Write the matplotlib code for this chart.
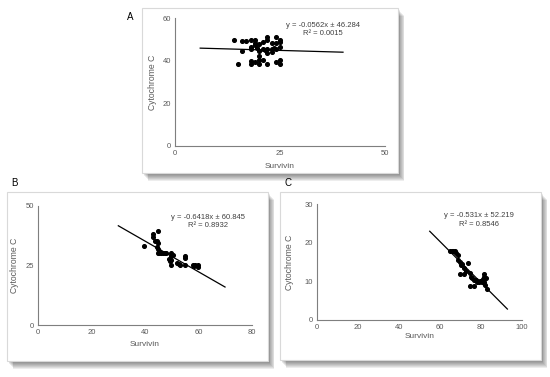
import matplotlib
matplotlib.use("Agg")
import matplotlib.pyplot as plt
from matplotlib.patches import Rectangle

plt.rcParams['font.family'] = ['Liberation Sans', 'DejaVu Sans']

# Panel A data
a_x = [14, 15, 16, 16, 17, 18, 18, 18, 18, 18, 19, 19, 19, 19.5, 20, 20, 20, 20, 20,
       21, 21, 21, 22, 22, 22, 22, 22, 23, 23, 23, 24, 24, 24, 24, 25, 25, 25, 25, 25,
       19, 21.5, 23.5]
a_y = [50, 38.3, 44.4, 49.5, 49.5, 50, 46.6, 45.4, 40, 38.3, 50, 48.2, 39.4, 46.2, 48, 44.4,
       42.2, 40.3, 38.3, 49, 45.4, 40.3, 51.3, 49.8, 45.4, 43.5, 38.3, 48.5, 45.4, 44.3,
       51.3, 48.5, 45.4, 39.4, 50, 49, 46.3, 40.3, 38.3, 47.5, 45, 46]
a_fit = (-0.0562, 46.284)
a_line_x = [6, 40]

# Panel B data
b_x = [39.8, 42.9, 42.9, 44.9, 43.9, 44.4, 44.9, 44.4, 44.9, 44.9, 45.4, 45.9, 46.9, 47.9,
       49.9, 49.9, 48.9, 49.9, 49.9, 51.9, 53.1, 55, 55, 55, 57.9, 58.8, 59.9, 59.9, 45.2,
       45.6, 47.4, 50.4, 52.6, 58.3, 49.4]
b_y = [33.1, 38.1, 37.0, 39.2, 35.2, 35.2, 34.2, 32.8, 31.7, 30, 30, 30, 30, 30,
       30, 28.9, 27.5, 27.2, 25.1, 26.1, 25.1, 28.9, 27.9, 25.1, 25.1, 25.1, 25.1, 24.2, 31,
       30.5, 30, 29.5, 25.5, 24.8, 27]
b_fit = (-0.6418, 60.845)
b_line_x = [30, 70]

# Panel C data
c_x = [64.9, 66.2, 67.4, 65.8, 69, 68.7, 69.8, 70.3, 69.8, 71.9, 71.9, 73.9, 74.7, 75.2,
       74.7, 76.8, 76.8, 78, 79.1, 80.4, 81.7, 81.7, 81.7, 82.9, 77.5, 79.5, 81, 82.3,
       70.8, 72.6, 75.8, 81.9, 67.8]
c_y = [18, 18, 18, 17.8, 16.9, 15.6, 15.1, 14.3, 11.9, 11.9, 13.4, 14.9, 12.1, 11.1,
       8.9, 8.9, 10.4, 9.9, 9.9, 9.9, 9.9, 11.9, 11.1, 8.0, 10.5, 10.2, 10.6, 10.9,
       14.5, 12.6, 10.8, 9.2, 17.5]
c_fit = (-0.531, 52.219)
c_line_x = [55, 93]

W, H = 550, 377
fig = plt.figure(figsize=(5.5, 3.77), dpi=100)
fig.patch.set_facecolor('white')


def box(x0, y0, x1, y1):
    # chart frame with a soft shadow to the right/bottom
    for i in range(8, 0, -1):
        fig.patches.append(Rectangle((x0 / W + i * 0.8 / W, 1 - y1 / H - i * 1.0 / H),
                                     (x1 - x0) / W, (y1 - y0) / H,
                                     transform=fig.transFigure, facecolor='black',
                                     edgecolor='none', alpha=0.07, zorder=-2))
    fig.patches.append(Rectangle((x0 / W, 1 - y1 / H), (x1 - x0) / W, (y1 - y0) / H,
                                 transform=fig.transFigure, facecolor='white',
                                 edgecolor='#d9d9d9', linewidth=0.8, zorder=-1))


def panel(xs, ys, fit, line_x, xlim, ylim, xticks, yticks, px, eq_xy, r2, ylab_x, xlab_y):
    left, right, top, bottom = px
    ax = fig.add_axes([left / W, 1 - bottom / H, (right - left) / W, (bottom - top) / H])
    ax.set_zorder(2)
    ax.set_facecolor('none')
    ax.scatter(xs, ys, s=7, color='black', zorder=3)
    ly = [fit[0] * v + fit[1] for v in line_x]
    ax.plot(line_x, ly, color='black', linewidth=0.9)
    ax.set_xlim(xlim)
    ax.set_ylim(ylim)
    ax.set_xticks(xticks)
    ax.set_yticks(yticks)
    for s in ['top', 'right']:
        ax.spines[s].set_visible(False)
    for s in ['left', 'bottom']:
        ax.spines[s].set_color('#7f7f7f')
        ax.spines[s].set_linewidth(0.8)
    ax.tick_params(length=0, labelsize=5.5, labelcolor='#595959', pad=3)
    sign = '-' if fit[0] < 0 else ''
    ax.text(eq_xy[0], eq_xy[1], f'y = {sign}{abs(fit[0])}x ± {fit[1]:.3f}', ha='center',
            va='center', fontsize=5.5, color='#404040')
    ax.text(eq_xy[0], r2[0], f'R² = {r2[1]}', ha='center', va='center', fontsize=5.5,
            color='#404040')
    ax.set_ylabel('Cytochrome C', fontsize=6.2, color='#595959')
    ax.set_xlabel('Survivin', fontsize=6, color='#595959')
    # label coords refer to the label's outer edge, so shift a little
    ax.yaxis.set_label_coords((ylab_x + 4 - left) / (right - left), 0.5)
    ax.xaxis.set_label_coords(0.5, -(xlab_y - 1.5 - bottom) / (bottom - top))
    return ax


# Panel A
box(142, 8, 398, 173)
panel(a_x, a_y, a_fit, a_line_x, (0, 50), (0, 60), [0, 25, 50], [0, 20, 40, 60],
      (175, 385, 18.3, 145.7), (35.3, 56.7), (52.8, '0.0015'), 153, 164)
fig.text(130.7 / W, 1 - 17.5 / H, 'A', fontsize=7, ha='center', va='center')

# Panel B
box(7, 192, 268, 361)
panel(b_x, b_y, b_fit, b_line_x, (0, 80), (0, 50), [0, 20, 40, 60, 80], [0, 25, 50],
      (38.3, 251.7, 205.7, 325), (63.7, 45.0), (41.5, '0.8932'), 15, 343)
fig.text(14 / W, 1 - 183.3 / H, 'B', fontsize=7, ha='center', va='center')

# Panel C
box(280, 192, 541, 360)
panel(c_x, c_y, c_fit, c_line_x, (0, 100), (0, 30), [0, 20, 40, 60, 80, 100],
      [0, 10, 20, 30], (317.3, 521.7, 204.3, 320), (79.1, 27.0), (24.8, '0.8546'), 290, 334)
fig.text(287.7 / W, 1 - 182.7 / H, 'C', fontsize=7, ha='center', va='center')

fig.savefig('out.png', dpi=100)
